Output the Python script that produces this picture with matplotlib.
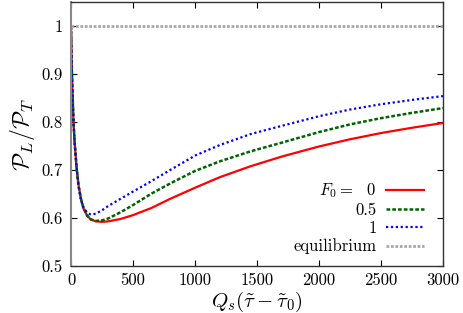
import matplotlib
matplotlib.use("Agg")
import matplotlib.pyplot as plt

plt.rcParams['font.family'] = 'serif'
plt.rcParams['font.serif'] = ['cmr10', 'DejaVu Serif']
plt.rcParams['mathtext.fontset'] = 'cm'
plt.rcParams['axes.formatter.use_mathtext'] = True

x = [0, 5, 10, 20, 30, 45, 60, 80, 100, 130, 160, 200, 250, 300, 400, 500,
     650, 800, 1000, 1200, 1450, 1700, 2000, 2250, 2500, 2750, 3000]
y_f0 = [1.0, 0.93, 0.88, 0.80, 0.755, 0.705, 0.67, 0.64, 0.62, 0.605, 0.597,
        0.593, 0.592, 0.593, 0.598, 0.606, 0.621, 0.640, 0.663, 0.685, 0.708,
        0.728, 0.749, 0.764, 0.777, 0.788, 0.798]
y_f05 = [1.0, 0.93, 0.88, 0.80, 0.755, 0.705, 0.668, 0.64, 0.622, 0.605, 0.597,
         0.594, 0.595, 0.599, 0.612, 0.627, 0.651, 0.672, 0.698, 0.718, 0.739,
         0.757, 0.779, 0.795, 0.808, 0.819, 0.829]
y_f1 = [1.0, 0.93, 0.88, 0.80, 0.755, 0.705, 0.668, 0.638, 0.622, 0.611, 0.607,
        0.609, 0.616, 0.625, 0.640, 0.655, 0.677, 0.700, 0.730, 0.752, 0.775,
        0.792, 0.812, 0.826, 0.837, 0.846, 0.854]
eq_x = [0, 3000]
eq_y = [1.0, 1.0]

xticks = [0, 500, 1000, 1500, 2000, 2500, 3000]
xticklabels = ['0', '500', '1000', '1500', '2000', '2500', '3000']
yticks = [0.5, 0.6, 0.7, 0.8, 0.9, 1.0]
yticklabels = ['0.5', '0.6', '0.7', '0.8', '0.9', '1']

fig = plt.figure(figsize=(4.63, 3.13), dpi=100)
ax = fig.add_axes([71/463, 1-266/313, (443-71)/463, (266-2)/313])

ax.plot(x, y_f0, color='#ff0000', lw=1.6, ls='-', label=r'$F_0 =$  0')
ax.plot(x, y_f05, color='#006400', lw=1.8, ls=(0, (1.5, 0.8)), label='0.5')
ax.plot(x, y_f1, color='#0000ff', lw=1.6, ls=(0, (1, 1.2)), label='1')
ax.plot(eq_x, eq_y, color='#a8a8a8', lw=2.0, ls=(0, (1, 0.6)), label='equilibrium')

ax.set_xlim(0, 3000)
ax.set_ylim(0.5, 1.05)
ax.set_xticks(xticks)
ax.set_xticklabels(xticklabels)
ax.set_yticks(yticks)
ax.set_yticklabels(yticklabels)
ax.tick_params(direction='in', top=True, right=True, labelsize=12, length=4,
               width=0.8, pad=6, colors='black')
ax.tick_params(axis='x', pad=5)
for s in ax.spines.values():
    s.set_color('#333333')
    s.set_linewidth(1.0)
ax.spines['left'].set_color('#888888')
ax.spines['left'].set_linewidth(1.5)

ax.set_xlabel(r'$Q_s(\tilde{\tau} - \tilde{\tau}_0)$', fontsize=15, labelpad=1)
ax.set_ylabel(r'$\mathcal{P}_L/\mathcal{P}_T$', fontsize=17, labelpad=3)

leg = ax.legend(loc='lower right', frameon=False, markerfirst=False, fontsize=12,
                handlelength=2.3, handletextpad=0.55, labelspacing=0.15,
                borderaxespad=0.3, bbox_to_anchor=(0.98, 0.0))

fig.savefig('out.png', dpi=100)
